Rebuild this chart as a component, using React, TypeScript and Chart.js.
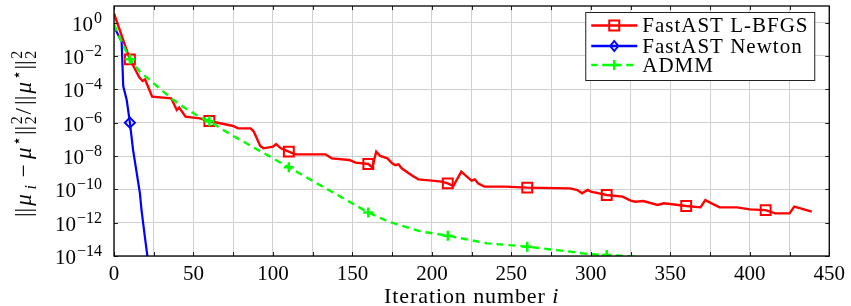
import React, { useEffect, useRef } from 'react';
import { Chart, registerables } from 'chart.js';

Chart.register(...registerables);

// [iteration, log10(relative error)]
const lbfgsPoints: [number, number][] = [
  [0, 0.55], [10, -2.2], [16, -3.3], [18, -3.5], [19.5, -3.4], [24, -4.44], [36, -4.54], [39.5, -5.24],
  [41, -5.1], [45, -5.64], [54, -5.74], [60, -5.9], [75, -6.2], [78, -6.34], [86, -6.34], [88, -6.54],
  [92, -7.4], [94, -7.54], [100, -7.44], [102, -7.28], [105, -7.54], [110, -7.74], [114, -7.9], [133, -7.9],
  [137, -8.14], [148, -8.24], [152, -8.4], [160, -8.48], [162.5, -8.68], [165, -7.74], [167.5, -8.0],
  [172, -8.14], [175, -8.44], [177, -8.55], [179, -8.5], [181, -8.74], [187, -9.14], [191.5, -9.4],
  [200, -9.48], [206, -9.54], [210, -9.64], [213.5, -9.8], [218.5, -8.94], [222, -9.24], [225, -9.48],
  [227, -9.4], [229, -9.64], [233, -9.84], [246, -9.84], [260, -9.9], [287, -9.94], [291.5, -10.04],
  [294.5, -10.24], [298, -10.04], [300, -10.14], [310, -10.34], [320, -10.44], [325, -10.68], [328, -10.74],
  [333, -10.7], [342, -10.94], [346, -10.84], [360, -11.0], [369, -11.08], [372, -10.64], [375, -10.8],
  [381, -11.08], [392, -11.08], [400, -11.2], [410, -11.25], [416, -11.44], [425, -11.44], [428, -11.04],
  [439, -11.34],
];

const newtonPoints: [number, number][] = [
  [0, -0.24], [4.8, -1.14], [5.8, -3.8], [8, -4.64], [10, -6.0], [12, -7.64], [14, -8.84],
  [16.3, -10.24], [17.3, -11.24], [19.4, -12.84], [21, -14.0], [22, -14.8],
];

const admmPoints: [number, number][] = [
  [0, -0.1], [3.8, -0.94], [10, -2.2], [16.3, -2.94], [22.5, -3.44], [29.8, -4.04], [36, -4.54],
  [43.4, -5.04], [51.7, -5.54], [60, -5.92], [75, -6.8], [87, -7.44], [110, -8.68], [148, -10.74],
  [160, -11.39], [172.7, -11.94], [193.6, -12.54], [210, -12.78], [235, -13.24], [260, -13.44],
  [287, -13.74], [298, -13.88], [310, -13.94], [327, -14.04], [340, -14.25],
];

const markerIters = [10, 60, 110, 160, 210, 260, 310, 360, 410];
const xTickValues = [0, 25, 50, 75, 100, 125, 150, 175, 200, 225, 250, 275, 300, 325, 350, 375, 400, 425, 450];
const xLabelEvery = 50;
const yTickExponents = [0, -2, -4, -6, -8, -10, -12, -14];
const seriesNames = ['FastAST L-BFGS', 'FastAST Newton', 'ADMM'];
const seriesColors = ['#ff0000', '#0000ff', '#00ff00'];
const xTitleText = 'Iteration number ';
const xTitleVar = 'i';

const FONT = "'Liberation Serif', 'DejaVu Serif', serif";
const MAIN = 21;
const SCRIPT = 15;

const toData = (pts: [number, number][]) => pts.map(([x, e]) => ({ x, y: Math.pow(10, e) }));
const radii = (pts: [number, number][], r: number) => pts.map(([x]) => (markerIters.includes(x) ? r : 0));

type Seg = { t: string; italic?: boolean; sup?: boolean; sub?: boolean; stack?: boolean; gap?: number };
const yTitleSegs: Seg[] = [
  { t: '||', gap: 1 }, { t: 'μ', italic: true }, { t: 'i', italic: true, sub: true, gap: 3 }, { t: '−', gap: 4 },
  { t: 'μ', italic: true }, { t: '⋆', sup: true }, { t: '||' }, { t: '2', stack: true },
  { t: '/', gap: 1 }, { t: '||', gap: 1 }, { t: 'μ', italic: true }, { t: '⋆', sup: true }, { t: '||' }, { t: '2', stack: true },
];

const TITLE_MAIN = 23;
const TITLE_SCRIPT = 16;

function segFont(s: Seg) {
  const size = s.sup || s.sub || s.stack ? TITLE_SCRIPT : TITLE_MAIN;
  return `${s.italic ? 'italic ' : ''}${size}px ${FONT}`;
}

function drawRich(ctx: CanvasRenderingContext2D, segs: Seg[], cx: number, baseY: number) {
  let total = 0;
  const widths = segs.map((s) => {
    ctx.font = segFont(s);
    const w = ctx.measureText(s.t).width + 1.2 + (s.gap || 0) * 2;
    total += w;
    return w;
  });
  let x = cx - total / 2;
  ctx.textBaseline = 'alphabetic';
  ctx.textAlign = 'left';
  segs.forEach((s, i) => {
    ctx.font = segFont(s);
    const gx = x + (s.gap || 0);
    if (s.stack) {
      ctx.fillText(s.t, gx + 0.5, baseY - 9);
      ctx.fillText(s.t, gx + 0.5, baseY + 5);
    } else if (s.sup) {
      ctx.fillText(s.t, gx + 0.5, baseY - 9);
    } else if (s.sub) {
      ctx.fillText(s.t, gx + 0.5, baseY + 5);
    } else {
      ctx.fillText(s.t, gx, baseY);
    }
    x += widths[i];
  });
}

function drawMarker(ctx: CanvasRenderingContext2D, kind: number, x: number, y: number, color: string) {
  ctx.save();
  ctx.setLineDash([]);
  ctx.strokeStyle = color;
  if (kind === 0) {
    ctx.lineWidth = 2;
    ctx.strokeRect(x - 5, y - 5, 10, 10);
  } else if (kind === 1) {
    ctx.lineWidth = 2;
    ctx.beginPath();
    ctx.moveTo(x, y - 5);
    ctx.lineTo(x + 4, y);
    ctx.lineTo(x, y + 5);
    ctx.lineTo(x - 4, y);
    ctx.closePath();
    ctx.stroke();
  } else {
    ctx.lineWidth = 2.5;
    ctx.beginPath();
    ctx.moveTo(x - 5, y);
    ctx.lineTo(x + 5, y);
    ctx.moveTo(x, y - 5);
    ctx.lineTo(x, y + 5);
    ctx.stroke();
  }
  ctx.restore();
}

const decorPlugin = {
  id: 'decor',
  afterDraw(chart: any) {
    const { ctx, chartArea: a, scales } = chart;
    const xs = scales.x;
    const ys = scales.y;
    ctx.save();

    // inner ticks
    ctx.strokeStyle = '#222';
    ctx.lineWidth = 1;
    ctx.beginPath();
    xTickValues.forEach((v) => {
      const px = Math.round(xs.getPixelForValue(v)) + 0.5;
      ctx.moveTo(px, a.bottom);
      ctx.lineTo(px, a.bottom - 4);
      ctx.moveTo(px, a.top);
      ctx.lineTo(px, a.top + 4);
    });
    yTickExponents.forEach((e) => {
      const py = Math.round(ys.getPixelForValue(Math.pow(10, e))) + 0.5;
      ctx.moveTo(a.left, py);
      ctx.lineTo(a.left + 4, py);
      ctx.moveTo(a.right, py);
      ctx.lineTo(a.right - 4, py);
    });
    ctx.stroke();

    // frame
    ctx.lineWidth = 1.3;
    ctx.strokeStyle = '#000';
    ctx.strokeRect(a.left, a.top, a.right - a.left, a.bottom - a.top);

    // y tick labels 10^e
    ctx.fillStyle = '#000';
    ctx.textBaseline = 'alphabetic';
    ctx.textAlign = 'left';
    yTickExponents.forEach((e) => {
      const py = ys.getPixelForValue(Math.pow(10, e));
      const expText = (e < 0 ? '−' : '') + Math.abs(e);
      ctx.font = `${MAIN}px ${FONT}`;
      const w10 = ctx.measureText('10').width;
      ctx.font = `${SCRIPT + 1}px ${FONT}`;
      const wE = ctx.measureText(expText).width;
      const right = a.left - 12;
      const x0 = right - wE - w10 - 1;
      ctx.font = `${MAIN}px ${FONT}`;
      ctx.fillText('10', x0, py + 8);
      ctx.font = `${SCRIPT + 1}px ${FONT}`;
      ctx.fillText(expText, x0 + w10 + 1, py);
    });

    // x title
    ctx.font = `${MAIN + 1}px ${FONT}`;
    (ctx as any).letterSpacing = '0.9px';
    const w1 = ctx.measureText(xTitleText).width;
    ctx.font = `italic ${MAIN + 1}px ${FONT}`;
    const w2 = ctx.measureText(xTitleVar).width;
    const cx = (a.left + a.right) / 2;
    const startX = cx - (w1 + w2) / 2;
    ctx.font = `${MAIN + 1}px ${FONT}`;
    ctx.fillText(xTitleText, startX, 303);
    ctx.font = `italic ${MAIN + 1}px ${FONT}`;
    ctx.fillText(xTitleVar, startX + w1, 303);
    (ctx as any).letterSpacing = '0px';

    // y title (rotated)
    ctx.save();
    ctx.translate(31, (a.top + a.bottom) / 2 + 3);
    ctx.rotate(-Math.PI / 2);
    drawRich(ctx, yTitleSegs, 0, 0);
    ctx.restore();

    // legend
    const lw = 229;
    const lh = 68;
    const lx = a.right - 15 - lw;
    const ly = a.top + 6;
    ctx.fillStyle = '#fff';
    ctx.fillRect(lx, ly, lw, lh);
    ctx.strokeStyle = '#222';
    ctx.lineWidth = 1;
    ctx.strokeRect(lx + 0.5, ly + 0.5, lw, lh);
    const rows = [13.5, 34, 53];
    seriesNames.forEach((name, i) => {
      const y = ly + rows[i];
      const color = seriesColors[i];
      ctx.save();
      ctx.strokeStyle = color;
      ctx.lineWidth = 2.4;
      if (i === 2) {
        ctx.setLineDash([7, 5]);
        ctx.lineDashOffset = 1;
      }
      ctx.beginPath();
      ctx.moveTo(lx + 6, y);
      ctx.lineTo(lx + 52, y);
      ctx.stroke();
      ctx.restore();
      drawMarker(ctx, i, lx + 29, y, color);
      ctx.fillStyle = '#000';
      ctx.font = `${MAIN}px ${FONT}`;
      (ctx as any).letterSpacing = '1px';
      ctx.textBaseline = 'middle';
      ctx.fillText(name, lx + 57, y + 1);
      (ctx as any).letterSpacing = '0px';
    });

    ctx.restore();
  },
};

export default function App() {
  const ref = useRef<HTMLCanvasElement | null>(null);
  useEffect(() => {
    if (!ref.current) return;
    const chart = new Chart(ref.current, {
      type: 'line',
      data: {
        datasets: [
          {
            label: seriesNames[0],
            data: toData(lbfgsPoints),
            borderColor: seriesColors[0],
            backgroundColor: 'transparent',
            borderWidth: 2.4,
            pointStyle: 'rect',
            pointRadius: radii(lbfgsPoints, 7),
            pointBorderWidth: 2,
            pointBorderColor: seriesColors[0],
            pointBackgroundColor: 'transparent',
            tension: 0,
            order: 3,
            clip: 0,
          } as any,
          {
            label: seriesNames[1],
            data: toData(newtonPoints),
            borderColor: seriesColors[1],
            backgroundColor: 'transparent',
            borderWidth: 2.2,
            pointStyle: 'rectRot',
            pointRadius: radii(newtonPoints, 5),
            pointBorderWidth: 2,
            pointBorderColor: seriesColors[1],
            pointBackgroundColor: 'transparent',
            tension: 0,
            order: 2,
            clip: 0,
          } as any,
          {
            label: seriesNames[2],
            data: toData(admmPoints),
            borderColor: seriesColors[2],
            backgroundColor: 'transparent',
            borderWidth: 2.4,
            borderDash: [7, 5],
            pointStyle: 'cross',
            pointRadius: radii(admmPoints, 5),
            pointBorderWidth: 2.5,
            pointBorderColor: seriesColors[2],
            pointBackgroundColor: 'transparent',
            tension: 0,
            order: 1,
            clip: 0,
          } as any,
        ],
      },
      options: {
        responsive: false,
        animation: false,
        devicePixelRatio: 1,
        events: [],
        layout: { padding: { left: 0, right: 18, top: 6, bottom: 0 } },
        plugins: { legend: { display: false }, tooltip: { enabled: false } },
        scales: {
          x: {
            type: 'linear',
            min: 0,
            max: 450,
            afterBuildTicks: (s: any) => {
              s.ticks = xTickValues.map((v) => ({ value: v }));
            },
            afterFit: (s: any) => {
              s.height = 50;
            },
            grid: { color: '#d0d0d0', lineWidth: 1, drawTicks: false },
            border: { display: false },
            ticks: {
              autoSkip: false,
              maxRotation: 0,
              padding: 6,
              color: '#000',
              font: { family: FONT, size: MAIN },
              callback: (v: any) => (Number(v) % xLabelEvery === 0 ? String(v) : ''),
            },
          },
          y: {
            type: 'logarithmic',
            min: 1e-14,
            max: 10,
            afterBuildTicks: (s: any) => {
              s.ticks = yTickExponents.map((e) => ({ value: Math.pow(10, e) }));
            },
            afterFit: (s: any) => {
              s.width = 114;
            },
            grid: { color: '#d0d0d0', lineWidth: 1, drawTicks: false },
            border: { display: false },
            ticks: { display: false },
          },
        },
      },
      plugins: [decorPlugin],
    } as any);
    return () => chart.destroy();
  }, []);
  return (
    <div style={{ position: 'absolute', left: 0, top: 0, width: 851, height: 306, background: '#fff' }}>
      <canvas ref={ref} width={851} height={306} style={{ width: 851, height: 306, display: 'block' }} />
    </div>
  );
}
